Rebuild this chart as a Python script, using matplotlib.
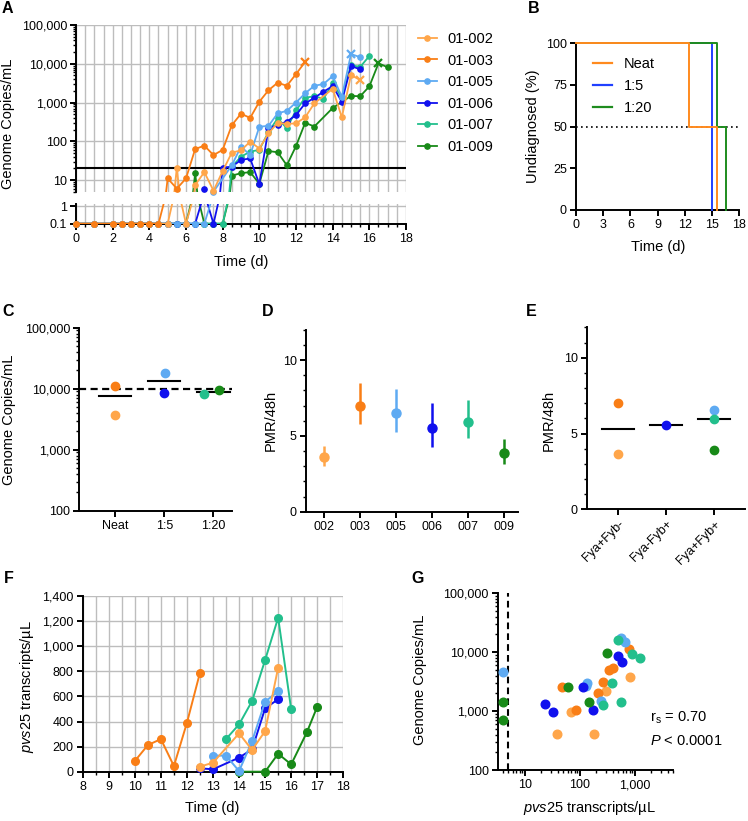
import numpy as np
import matplotlib
matplotlib.use("Agg")
import matplotlib.pyplot as plt
from matplotlib.ticker import (FixedLocator, MultipleLocator, LogLocator,
                               NullFormatter, FuncFormatter, NullLocator)
from matplotlib.lines import Line2D

plt.rcParams['font.family'] = ['Liberation Sans', 'DejaVu Sans']
plt.rcParams['mathtext.fontset'] = 'custom'
plt.rcParams['mathtext.rm'] = 'Liberation Sans'
plt.rcParams['mathtext.it'] = 'Liberation Sans:italic'
plt.rcParams['axes.linewidth'] = 1.4

# ---------------- data ----------------
subjects = ['01-002', '01-003', '01-005', '01-006', '01-007', '01-009']

# Panel A: genome copies/mL over time (0.1 = undetected)
a_t_002 = [0, 1, 2, 2.5, 3, 3.5, 4, 4.5, 5, 5.5, 6, 6.5, 7, 7.5, 8, 8.5, 9, 9.5, 10, 10.5,
           11, 11.5, 12, 12.5, 13, 14, 14.5, 15, 15.5]
a_v_002 = [0.1, 0.1, 0.1, 0.1, 0.1, 0.1, 0.1, 0.1, 0.1, 21, 0.1, 7.4, 16, 5.3, 17, 51, 58, 98, 65, 160,
           300, 280, 290, 415, 950, 2250, 415, 5100, 3800]
a_t_003 = [0, 1, 2, 2.5, 3, 3.5, 4, 4.5, 5, 5.5, 6, 6.5, 7, 7.5, 8, 8.5, 9, 9.5, 10, 10.5,
           11, 11.5, 12, 12.5]
a_v_003 = [0.1, 0.1, 0.1, 0.1, 0.1, 0.1, 0.1, 0.1, 11, 6, 11, 63, 77, 44, 60, 260, 515, 400, 1050, 2070,
           3250, 2700, 5400, 11200]
a_t_005 = [0, 1, 2, 2.5, 3, 3.5, 4, 4.5, 5, 5.5, 6, 6.5, 7, 7.5, 8.5, 9, 9.5, 10, 10.5, 11,
           11.5, 12, 12.5, 13, 13.5, 14, 14.5, 15, 15.5]
a_v_005 = [0.1, 0.1, 0.1, 0.1, 0.1, 0.1, 0.1, 0.1, 0.1, 0.1, 0.1, 0.1, 0.1, 5.0, 24, 73, 44, 237, 250, 525,
           610, 1000, 1730, 2700, 3000, 4800, 1400, 17800, 14800]
a_t_006 = [0, 1, 2, 2.5, 3, 3.5, 4, 4.5, 5, 5.5, 6, 6.5, 7, 7.5, 8, 8.5, 9, 9.5, 10, 10.5,
           11, 11.5, 12, 12.5, 13, 13.5, 14, 14.5, 15, 15.5]
a_v_006 = [0.1, 0.1, 0.1, 0.1, 0.1, 0.1, 0.1, 0.1, 0.1, 0.1, 0.1, 0.1, 5.9, 0.1, 21, 22, 33, 36, 7.8, 215,
           265, 320, 475, 950, 1320, 1900, 2650, 1050, 8700, 7200]
a_t_007 = [0, 1, 2, 2.5, 3, 3.5, 4, 4.5, 5, 5.5, 6, 6.5, 7, 7.5, 8, 8.5, 9, 9.5, 10, 10.5,
           11, 11.5, 12, 12.5, 13, 13.5, 14, 14.5, 15, 15.5, 16]
a_v_007 = [0.1, 0.1, 0.1, 0.1, 0.1, 0.1, 0.1, 0.1, 0.1, 0.1, 0.1, 0.1, 0.1, 0.1, 0.1, 22, 40, 54, 60, 175,
           390, 215, 630, 1330, 1450, 1250, 3100, 1350, 9200, 8300, 15800]
a_t_009 = [0, 1, 2, 2.5, 3, 3.5, 4, 4.5, 5, 5.5, 6, 6.5, 7, 7.5, 8, 8.5, 9, 9.5, 10, 10.5,
           11, 11.5, 12, 12.5, 13, 14, 15, 15.5, 16, 16.5, 17]
a_v_009 = [0.1, 0.1, 0.1, 0.1, 0.1, 0.1, 0.1, 0.1, 0.1, 0.1, 0.1, 15, 0.1, 0.1, 0.1, 13, 15, 16, 8, 56,
           52, 24, 75, 300, 240, 720, 1480, 1450, 2600, 10300, 8100]
a_times = [a_t_002, a_t_003, a_t_005, a_t_006, a_t_007, a_t_009]
a_vals = [a_v_002, a_v_003, a_v_005, a_v_006, a_v_007, a_v_009]
a_diag_day = [15.5, 12.5, 15.0, None, None, 16.5]   # 'x' marker
a_threshold = 20

# Panel B: diagnosis days per dilution
b_groups = ['Neat', '1:5', '1:20']
b_diag_days = [[12.5, 15.5], [15.0, 15.0], [15.5, 16.5]]

# Panel C: genome copies at diagnosis
c_groups = ['Neat', '1:5', '1:20']
c_vals = [[11200, 3700], [17800, 8600], [8100, 9600]]
c_subj = [['01-003', '01-002'], ['01-005', '01-006'], ['01-007', '01-009']]
c_ref = 10000

# Panel D: PMR/48h with CI
d_labels = ['002', '003', '005', '006', '007', '009']
d_pmr = [3.63, 6.99, 6.53, 5.54, 5.93, 3.89]
d_lo = [3.03, 5.76, 5.27, 4.29, 4.84, 3.12]
d_hi = [4.33, 8.50, 8.07, 7.19, 7.36, 4.77]

# Panel E: Duffy phenotype groups
e_groups = ['Fya+Fyb-', 'Fya-Fyb+', 'Fya+Fyb+']
e_members = [['01-003', '01-002'], ['01-006'], ['01-005', '01-007', '01-009']]

# Panel F: pvs25 transcripts/uL over time
f_t_002 = [12.5, 13, 14, 14.5, 15, 15.5]
f_v_002 = [40, 72, 305, 173, 324, 829]
f_t_003 = [10, 10.5, 11, 11.5, 12, 12.5]
f_v_003 = [85, 212, 260, 45, 390, 789]
f_t_005 = [13, 13.5, 14, 14.5, 15, 15.5]
f_v_005 = [128, 128, 5, 244, 558, 640]
f_t_006 = [12.5, 13, 14, 14.5, 15, 15.5]
f_v_006 = [27, 19, 112, 178, 505, 577]
f_t_007 = [13.5, 14, 14.5, 15, 15.5, 16]
f_v_007 = [260, 377, 563, 890, 1227, 497]
f_t_009 = [14, 15, 15.5, 16, 16.6, 17]
f_v_009 = [0, 0, 143, 58, 313, 518]
f_times = [f_t_002, f_t_003, f_t_005, f_t_006, f_t_007, f_t_009]
f_vals = [f_v_002, f_v_003, f_v_005, f_v_006, f_v_007, f_v_009]

# Panel G: pvs25 vs genome copies
g_x_002 = [39, 69, 178, 300, 830]
g_y_002 = [405, 960, 415, 2220, 3750]
g_x_003 = [48, 85, 215, 265, 335, 405, 790]
g_y_003 = [2600, 1050, 2000, 3100, 5000, 5400, 11200]
g_x_005 = [4, 130, 132, 245, 570, 655]
g_y_005 = [4600, 2700, 2950, 1500, 17700, 15100]
g_x_006 = [22.8, 33, 115, 170, 500, 590]
g_y_006 = [1320, 980, 2600, 1050, 8700, 6900]
g_x_007 = [265, 380, 500, 570, 890, 1230]
g_y_007 = [1260, 3000, 15800, 1420, 9400, 8100]
g_x_009 = [4, 4, 62, 145, 315]
g_y_009 = [1450, 710, 2530, 1410, 9600]
g_xs = [g_x_002, g_x_003, g_x_005, g_x_006, g_x_007, g_x_009]
g_ys = [g_y_002, g_y_003, g_y_005, g_y_006, g_y_007, g_y_009]
g_lod = 5
g_rs_text = 'r$_\\mathregular{s}$ = 0.70'
g_p_text = '$\\mathit{P}$ < 0.0001'

# ---------------- style ----------------
colors = {'01-002': '#FFA64A', '01-003': '#F97E16', '01-005': '#5EAAF2',
          '01-006': '#1010EE', '01-007': '#22BF8C', '01-009': '#188A18'}
b_colors = ['#FF8A1E', '#2040FF', '#1E8C1E']
zorders = {'01-002': 8, '01-003': 9, '01-005': 7, '01-006': 6, '01-007': 5, '01-009': 4}
GRID = '#BDBDBD'
TICK_FS = 9
LAB_FS = 10.5

W, H = 748, 821
fig = plt.figure(figsize=(W / 100, H / 100), dpi=100)


def rect(x0, y0, x1, y1):
    return [x0 / W, 1 - y1 / H, (x1 - x0) / W, (y1 - y0) / H]


def ftext(x, y, s, **kw):
    fig.text(x / W, 1 - y / H, s, **kw)


def comma(v, pos):
    return f"{v:,.0f}" if v >= 1 else f"{v:g}"


def style(ax, minor=True):
    for s in ['top', 'right']:
        ax.spines[s].set_visible(False)
    ax.tick_params(which='major', direction='out', length=4.5, width=1.4,
                   labelsize=TICK_FS, pad=2)
    ax.tick_params(which='minor', direction='out', length=2.5, width=1.0)


# ---------------- Panel A ----------------
axA = fig.add_axes(rect(76, 25, 406, 192.3))
axAl = fig.add_axes(rect(76, 204, 406, 223.7))
for ax in (axA, axAl):
    ax.set_xlim(0, 18)
    ax.set_yscale('log')
    style(ax)
axA.set_ylim(4.82, 1e5)
axAl.set_ylim(0.1, 1.36)
axA.spines['bottom'].set_visible(False)
axA.xaxis.set_major_locator(MultipleLocator(0.5))
axA.tick_params(axis='x', which='both', length=0, labelbottom=False)
axA.yaxis.set_major_locator(LogLocator(base=10))
axA.yaxis.set_minor_locator(LogLocator(base=10, subs=np.arange(2, 10)))
axA.yaxis.set_major_formatter(FuncFormatter(comma))
axA.yaxis.set_minor_formatter(NullFormatter())
axA.grid(axis='x', color=GRID, lw=1)
axA.grid(axis='y', which='major', color=GRID, lw=1)

axAl.yaxis.set_major_locator(FixedLocator([0.1, 1]))
axAl.yaxis.set_minor_locator(NullLocator())
axAl.yaxis.set_major_formatter(FuncFormatter(comma))
axAl.xaxis.set_major_locator(MultipleLocator(2))
axAl.xaxis.set_minor_locator(MultipleLocator(0.5))
axAl.grid(axis='x', which='both', color=GRID, lw=1)
axAl.grid(axis='y', which='major', color=GRID, lw=1)
for ax in (axA, axAl):
    ax.set_axisbelow(True)

axA.axhline(a_threshold, color='k', lw=1.5, zorder=3)

handles = []
for name, t, v, dd in zip(subjects, a_times, a_vals, a_diag_day):
    t = np.array(t, float)
    v = np.array(v, float)
    c = colors[name]
    z = zorders[name]
    for ax in (axA, axAl):
        ax.plot(t, v, color=c, lw=1.3, zorder=z)
    isx = np.zeros(len(t), bool) if dd is None else np.isclose(t, dd)
    lo = (v <= 1.36) & ~isx
    hi = (v >= 4.82) & ~isx
    axAl.plot(t[lo], v[lo], 'o', color=c, ms=3.8, mec=c, clip_on=False, zorder=z + 0.5)
    axA.plot(t[hi], v[hi], 'o', color=c, ms=3.8, mec=c, clip_on=False, zorder=z + 0.5)
    if isx.any():
        axA.plot(t[isx], v[isx], 'x', color=c, ms=5.5, mew=1.6, clip_on=False, zorder=z + 0.5)
    handles.append(Line2D([], [], color=c, lw=1.3, marker='o', ms=3.8))

fig.legend(handles, subjects, loc='upper left', bbox_to_anchor=(418 / W, 1 - 32 / H),
           frameon=False, fontsize=10.5, handlelength=1.3, handletextpad=0.7,
           labelspacing=0.52, borderaxespad=0, borderpad=0)
ftext(8, 124, 'Genome Copies/mL', rotation=90, ha='center', va='center', fontsize=LAB_FS)
ftext(241, 262, 'Time (d)', ha='center', va='center', fontsize=LAB_FS)

# ---------------- Panel B ----------------
axB = fig.add_axes(rect(576, 43.3, 739.3, 210))
style(axB)
axB.set_xlim(0, 18)
axB.set_ylim(0, 100)
axB.set_xticks(np.arange(0, 19, 3))
axB.set_yticks([0, 25, 50, 75, 100])
axB.axhline(50, color='k', lw=1.2, ls=(0, (1, 2)), zorder=1)
b_handles = []
for g, days, c, z in zip(b_groups, b_diag_days, b_colors, [5, 3, 4]):
    days = np.sort(np.array(days, float))
    u, cnt = np.unique(days, return_counts=True)
    surv = 100 * (1 - np.cumsum(cnt) / len(days))
    xs = np.concatenate([[0], u])
    ys = np.concatenate([[100], surv])
    axB.step(xs, ys, where='post', color=c, lw=1.4, clip_on=False, zorder=z)
    b_handles.append(Line2D([], [], color=c, lw=1.6))
axB.legend(b_handles, b_groups, loc='upper left',
           bbox_to_anchor=((593 - 576) / 163.3, (210 - 57) / 166.7),
           frameon=False, fontsize=10.5, handlelength=1.3, handletextpad=0.8,
           labelspacing=0.55, borderaxespad=0, borderpad=0)
ftext(533, 126, 'Undiagnosed (%)', rotation=90, ha='center', va='center', fontsize=LAB_FS)
ftext(658, 247, 'Time (d)', ha='center', va='center', fontsize=LAB_FS)

# ---------------- Panel C ----------------
axC = fig.add_axes(rect(79, 327.7, 231.7, 510.7))
style(axC)
axC.set_yscale('log')
axC.set_ylim(100, 1e5)
axC.set_xlim(-0.73, 2.37)
axC.yaxis.set_major_locator(LogLocator(base=10))
axC.yaxis.set_minor_locator(LogLocator(base=10, subs=np.arange(2, 10)))
axC.yaxis.set_major_formatter(FuncFormatter(comma))
axC.yaxis.set_minor_formatter(NullFormatter())
axC.set_xticks(range(len(c_groups)))
axC.set_xticklabels(c_groups)
axC.axhline(c_ref, color='k', lw=1.6, ls=(0, (3.2, 2)), zorder=2)
c_offsets = [[0.0, 0.0], [0.02, 0.0], [-0.19, 0.11]]
for i, (vals, subs, offs) in enumerate(zip(c_vals, c_subj, c_offsets)):
    for v, s, o in zip(vals, subs, offs):
        axC.plot(i + o, v, 'o', color=colors[s], ms=6, zorder=4)
    axC.plot([i - 0.33, i + 0.33], [np.mean(vals)] * 2, color='k', lw=1.5, zorder=3)
ftext(9, 420, 'Genome Copies/mL', rotation=90, ha='center', va='center', fontsize=LAB_FS)

# ---------------- Panel D ----------------
axD = fig.add_axes(rect(305.7, 329.7, 518, 511.7))
style(axD)
axD.set_ylim(0, 12)
axD.set_xlim(-0.52, 5.4)
axD.yaxis.set_major_locator(MultipleLocator(5))
axD.yaxis.set_minor_locator(MultipleLocator(1))
axD.set_xticks(range(len(d_labels)))
axD.set_xticklabels(d_labels)
for i, (lab, m, lo, hi) in enumerate(zip(d_labels, d_pmr, d_lo, d_hi)):
    c = colors['01-' + lab]
    axD.errorbar(i, m, yerr=[[m - lo], [hi - m]], fmt='o', color=c, ms=6.5,
                 elinewidth=1.8, capsize=0)
ftext(271, 420, 'PMR/48h', rotation=90, ha='center', va='center', fontsize=LAB_FS)

# ---------------- Panel E ----------------
axE = fig.add_axes(rect(586.7, 327.4, 745, 509.3))
style(axE)
axE.set_ylim(0, 12)
axE.set_xlim(-0.64, 2.64)
axE.yaxis.set_major_locator(MultipleLocator(5))
axE.yaxis.set_minor_locator(MultipleLocator(1))
axE.set_xticks(range(len(e_groups)))
axE.set_xticklabels(e_groups, rotation=45, ha='right', rotation_mode='anchor')
for i, mem in enumerate(e_members):
    vals = [d_pmr[d_labels.index(s[3:])] for s in mem]
    for s, v in zip(mem, vals):
        axE.plot(i, v, 'o', color=colors[s], ms=6, zorder=4)
    axE.plot([i - 0.33, i + 0.33], [np.median(vals)] * 2, color='k', lw=1.5, zorder=3)
ftext(549, 420, 'PMR/48h', rotation=90, ha='center', va='center', fontsize=LAB_FS)

# ---------------- Panel F ----------------
axF = fig.add_axes(rect(82.7, 596, 343.3, 771.7))
style(axF)
axF.set_xlim(8, 18)
axF.set_ylim(0, 1400)
axF.xaxis.set_major_locator(MultipleLocator(1))
axF.xaxis.set_minor_locator(MultipleLocator(0.5))
axF.yaxis.set_major_locator(MultipleLocator(200))
axF.yaxis.set_major_formatter(FuncFormatter(comma))
axF.grid(axis='x', which='both', color=GRID, lw=1)
axF.grid(axis='y', which='major', color=GRID, lw=1)
axF.set_axisbelow(True)
for name, t, v in zip(subjects, f_times, f_vals):
    c = colors[name]
    axF.plot(t, v, '-o', color=c, lw=1.4, ms=5.5, clip_on=False, zorder=zorders[name])
ftext(27, 686, '$\\mathit{pvs25}$ transcripts/µL', rotation=90, ha='center', va='center',
      fontsize=LAB_FS)
ftext(212, 808, 'Time (d)', ha='center', va='center', fontsize=LAB_FS)

# ---------------- Panel G ----------------
axG = fig.add_axes(rect(497.7, 593.3, 673.3, 770))
style(axG)
axG.set_xscale('log')
axG.set_yscale('log')
axG.set_xlim(3.2, 5000)
axG.set_ylim(100, 1e5)
for axis in (axG.xaxis, axG.yaxis):
    axis.set_major_locator(LogLocator(base=10))
    axis.set_minor_locator(LogLocator(base=10, subs=np.arange(2, 10)))
    axis.set_major_formatter(FuncFormatter(comma))
    axis.set_minor_formatter(NullFormatter())
axG.axvline(g_lod, color='k', lw=1.5, ls=(0, (3.2, 2)), zorder=2)
for name, xs, ys in zip(subjects, g_xs, g_ys):
    axG.plot(xs, ys, 'o', color=colors[name], ms=6.2, ls='none', zorder=3)
ftext(650, 718, g_rs_text, ha='left', va='center', fontsize=10.5)
ftext(650, 741, g_p_text, ha='left', va='center', fontsize=10.5)
ftext(420, 680, 'Genome Copies/mL', rotation=90, ha='center', va='center', fontsize=LAB_FS)
ftext(590, 808, '$\\mathit{pvs25}$ transcripts/µL', ha='center', va='center', fontsize=LAB_FS)

# ---------------- panel letters ----------------
for lab, x, y in [('A', 2, 1), ('B', 528, 1), ('C', 2, 304), ('D', 262, 304),
                  ('E', 526, 304), ('F', 4, 571), ('G', 411, 571)]:
    ftext(x, y, lab, ha='left', va='top', fontsize=11.5, fontweight='bold')

fig.savefig('out.png', dpi=100)
